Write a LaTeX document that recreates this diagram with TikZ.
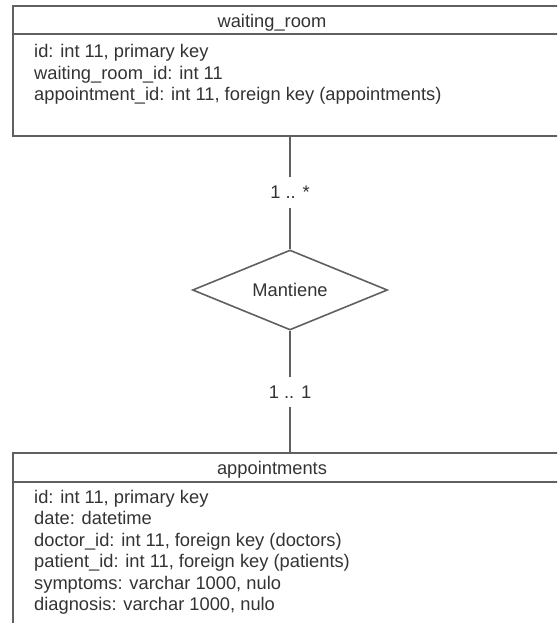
\documentclass[tikz,border=0pt]{standalone}
\usepackage{fontspec}
\setmainfont{Liberation Sans}
\usetikzlibrary{shapes.geometric}

\definecolor{linegray}{HTML}{606060}
\definecolor{textgray}{HTML}{333333}

\tikzset{
  tabline/.style={draw=linegray, line width=1.6pt},
  erfont/.style={text=textgray, font=\fontsize{18.3}{21.5}\selectfont},
  field/.style={erfont, anchor=base west, inner sep=0pt},
  tabhead/.style={erfont, anchor=base, inner sep=0pt},
  relation/.style={erfont, diamond, tabline, aspect=2.44, minimum width=195pt,
    minimum height=80pt, inner sep=0pt},
  card/.style={erfont, fill=white, inner xsep=2pt, inner ysep=9pt}
}

\begin{document}
\begin{tikzpicture}[x=1pt, y=-1pt]
    \useasboundingbox (0,0) rectangle (557,623);
    \clip (0,0) rectangle (557,623);

    % waiting_room table
    \draw[tabline] (13,6) rectangle (620,136);
    \draw[tabline] (13,34) -- (620,34);
    \node[tabhead] (wrhead) at (272,28) {waiting\_room};
    \foreach \txt [count=\i] in {{id: int 11, primary key},
        {waiting\_room\_id: int 11},
        {appointment\_id: int 11, foreign key (appointments)}}
      \node[field] (wr-\i) at ({34},{58+21.5*(\i-1)}) {\txt};

    % appointments table
    \draw[tabline] (620,453) -- (13,453) -- (13,640);
    \draw[tabline] (13,482) -- (620,482);
    \node[tabhead] (aphead) at (272,474) {appointments};
    \foreach \txt [count=\i] in {{id: int 11, primary key},
        {date: datetime},
        {doctor\_id: int 11, foreign key (doctors)},
        {patient\_id: int 11, foreign key (patients)},
        {symptoms: varchar 1000, nulo},
        {diagnosis: varchar 1000, nulo}}
      \node[field] (ap-\i) at ({34},{503+21.5*(\i-1)}) {\txt};

    % relation
    \coordinate (wrfoot) at (290,136);
    \coordinate (aptop) at (290,453);
    \node[relation] (mantiene) at (290,290) {Mantiene};

    \draw[tabline] (wrfoot) -- node[card] {1 .. *} (mantiene);
    \draw[tabline] (mantiene) -- node[card] {1 .. 1} (aptop);
\end{tikzpicture}
\end{document}
